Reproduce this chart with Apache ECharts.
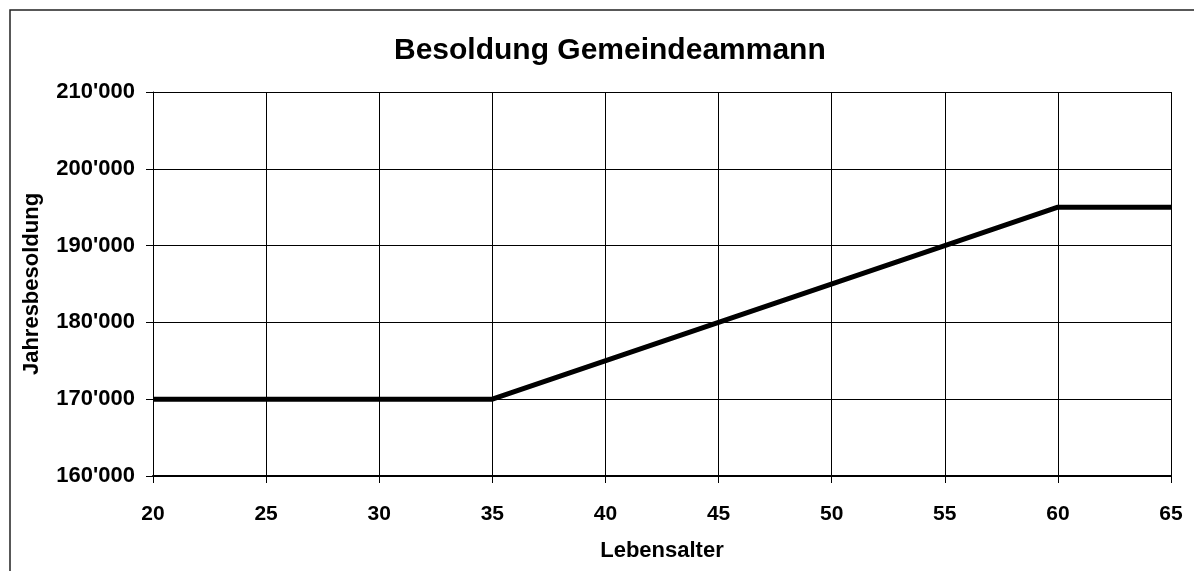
<!DOCTYPE html>
<html>
<head>
<meta charset="UTF-8">
<title>Besoldung Gemeindeammann</title>
<script src="https://cdn.jsdelivr.net/npm/echarts@6/dist/echarts.min.js"></script>
<style>
body{
margin:0;
background:#fff;
}
#chart{
width:1194px;
height:571px;
}
</style>
</head>
<body>
<div id="chart"></div>
<script>

// Lebensalter -> Jahresbesoldung
const ages = [20, 35, 45, 55, 60, 65]
const salaries = [170000, 170000, 180000, 190000, 195000, 195000]

const title = "Besoldung Gemeindeammann"
const xName = "Lebensalter"
const yName = "Jahresbesoldung"

const font = "'Liberation Sans', Arial, sans-serif"

function swiss(v){
 return String(v).replace(/\B(?=(\d{3})+(?!\d))/g, "'")
}

const chart = echarts.init(document.getElementById("chart"), null, {renderer:"canvas"})

chart.setOption({
 animation:false,
 backgroundColor:"#fff",
 graphic:[
  {
   type:"rect",
   shape:{ x:10, y:10, width:1300, height:700 },
   style:{ fill:"none", stroke:"#222", lineWidth:1.5 },
   silent:true
  }
 ],
 title:{
  text:title,
  left:389,
  top:31,
  textStyle:{ fontFamily:font, fontWeight:"bold", fontSize:30, color:"#000" }
 },
 grid:{ left:153, right:23, top:92, bottom:95, containLabel:false },
 xAxis:{
  type:"value",
  min:20,
  max:65,
  interval:5,
  name:xName,
  nameLocation:"middle",
  nameGap:64,
  nameTextStyle:{ fontFamily:font, fontWeight:"bold", fontSize:22, color:"#000" },
  axisLine:{ lineStyle:{ color:"#000", width:2 } },
  axisTick:{ show:true, length:7, lineStyle:{ color:"#000" } },
  axisLabel:{ margin:28, fontFamily:font, fontWeight:"bold", fontSize:21, color:"#000" },
  splitLine:{ show:true, lineStyle:{ color:"#000", width:1 } }
 },
 yAxis:{
  type:"value",
  min:160000,
  max:210000,
  interval:10000,
  name:yName,
  nameLocation:"middle",
  nameGap:110,
  nameTextStyle:{ fontFamily:font, fontWeight:"bold", fontSize:22, color:"#000" },
  axisLine:{ show:true, lineStyle:{ color:"#000", width:1 } },
  axisTick:{ show:true, length:7, lineStyle:{ color:"#000" } },
  axisLabel:{ margin:18, fontFamily:font, fontWeight:"bold", fontSize:22, color:"#000", formatter:swiss },
  splitLine:{ show:true, lineStyle:{ color:"#000", width:1 } }
 },
 series:[
  {
   type:"line",
   data:ages.map((a,i)=>[a, salaries[i]]),
   showSymbol:false,
   lineStyle:{ color:"#000", width:5 },
   z:5
  }
 ]
})

</script>
</body>
</html>
